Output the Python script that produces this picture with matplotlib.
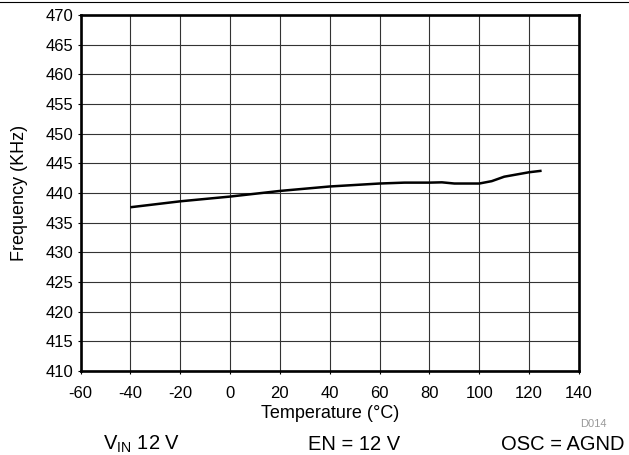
import matplotlib.pyplot as plt
import numpy as np

plt.rcParams['font.family'] = ['Liberation Sans', 'DejaVu Sans']

# Data
temperature = [-40, -20, 0, 20, 40, 60, 70, 80, 85, 90, 100, 105, 110, 120, 125]
frequency = [437.6, 438.6, 439.4, 440.35, 441.1, 441.6, 441.75, 441.75, 441.8,
             441.6, 441.6, 442.0, 442.75, 443.5, 443.75]

x_ticks = np.arange(-60, 141, 20)
y_ticks = np.arange(410, 471, 5)

fig = plt.figure(figsize=(6.29, 4.55), dpi=100)
ax = fig.add_axes([0.128, 0.1846, 0.7925, 0.7824])

ax.plot(temperature, frequency, color='black', linewidth=1.8, solid_capstyle='butt')

ax.set_xlim(-60, 140)
ax.set_ylim(410, 470)
ax.set_xticks(x_ticks)
ax.set_xticklabels([str(v) for v in x_ticks])
ax.set_yticks(y_ticks)
ax.set_yticklabels([str(v) for v in y_ticks])
ax.tick_params(direction='out', length=2, width=0.8, labelsize=12)
ax.tick_params(axis='x', pad=8.5)
ax.tick_params(axis='y', pad=3.4)
ax.grid(True, color='#333333', linewidth=0.8)
ax.set_axisbelow(True)
for s in ax.spines.values():
    s.set_linewidth(1.9)

ax.set_xlabel("Temperature (\u00b0C)", fontsize=13)
ax.xaxis.set_label_coords(0.5, -0.0955)
ax.set_ylabel("Frequency (KHz)", fontsize=13)
ax.yaxis.set_label_coords(-0.1046, 0.5)

# top rule and footer text
fig.add_artist(plt.Line2D([0, 1], [0.9965, 0.9965], color='black', linewidth=0.8))
fig.text(0.965, 0.0615, "D014", fontsize=8, color='#999999', ha='right', va='baseline')
fig.text(0.1638, 0.011, "V$_{\\mathregular{IN}}$ 12 V", fontsize=14.5, ha='left', va='baseline')
fig.text(0.5628, 0.011, "EN = 12 V", fontsize=14.5, ha='center', va='baseline')
fig.text(0.9936, 0.011, "OSC = AGND", fontsize=14.5, ha='right', va='baseline')

plt.savefig("out.png")
plt.close()
